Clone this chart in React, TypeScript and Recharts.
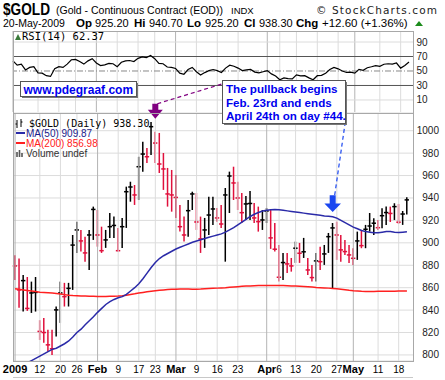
import { ComposedChart, Bar, Line, XAxis, YAxis, CartesianGrid, ReferenceLine, ReferenceDot } from 'recharts';

// trading days, Jan 2 - May 20 2009
const janDays = [2, 5, 6, 7, 8, 9, 12, 13, 14, 15, 16, 20, 21, 22, 23, 26, 27, 28, 29, 30];
const febDays = [2, 3, 4, 5, 6, 9, 10, 11, 12, 13, 17, 18, 19, 20, 23, 24, 25, 26, 27];
const marDays = [2, 3, 4, 5, 6, 9, 10, 11, 12, 13, 16, 17, 18, 19, 20, 23, 24, 25, 26, 27, 30, 31];
const aprDays = [1, 2, 3, 6, 7, 8, 9, 13, 14, 15, 16, 17, 20, 21, 22, 23, 24, 27, 28, 29, 30];
const mayDays = [1, 4, 5, 6, 7, 8, 11, 12, 13, 14, 15, 18, 19, 20];

const days = [
  ...janDays.map((d) => `Jan ${d}`),
  ...febDays.map((d) => `Feb ${d}`),
  ...marDays.map((d) => `Mar ${d}`),
  ...aprDays.map((d) => `Apr ${d}`),
  ...mayDays.map((d) => `May ${d}`),
];

const prevClose = 884;

const highs = [
  889, 886, 871.4, 869.5, 865.4, 869.5, 831, 833, 822.4, 822.4,
  843.2, 865.4, 864.3, 864.3, 907, 918.9, 911.5, 905.5, 911.5, 932.3,
  929.3, 914.4, 911.5, 926.6, 923.4, 913.3, 922.2, 950.1, 954.5, 951.6,
  976.8, 990.2, 984.6, 1007.8, 999.1, 998, 980.1, 966.8, 965, 960.5,
  933.8, 923.4, 938.2, 945.6, 944.5, 923.4, 922.2, 941.2, 941.2, 931.1,
  933.8, 948.9, 963.5, 967.9, 954.5, 944.5, 941.8, 946.3, 935.6, 932.3,
  929.3, 931.1, 929.3, 917.7, 898.1, 891, 891, 886.5, 901.1, 899.9,
  904.4, 886.5, 880.3, 891, 896.6, 898.1, 908.8, 917.7, 918.9, 907,
  902.6, 898.1, 895.2, 910, 911.5, 916, 926.6, 921.9, 920.4, 930.8,
  932.3, 932.3, 935.3, 934.7, 928.4, 940.7,
];

const lows = [
  866.9, 842, 838.7, 839.3, 837.5, 838.7, 813.4, 810.8, 802.8, 800,
  816.4, 828.6, 843.2, 843.2, 858, 891, 892.2, 883.2, 875.8, 902.6,
  896.6, 891, 895.5, 904.4, 904.4, 892.2, 895.5, 913.3, 936.7, 933.8,
  938.2, 963.5, 971.2, 978.3, 971.2, 962.3, 947.2, 932.3, 927.8, 922.2,
  910, 901.1, 905.5, 929.3, 911.5, 891, 895.5, 907, 916, 918.9,
  913.3, 883.2, 926.6, 938.2, 929.3, 917.7, 920.4, 920.4, 917.7, 910,
  911.5, 917.7, 894.6, 892.2, 865.4, 866.9, 873.2, 874.3, 882.1, 882.1,
  886.5, 871.4, 865.4, 865.4, 875.8, 880.3, 891, 859.5, 884.8, 883.2,
  889.2, 882.1, 880.3, 884.8, 895.2, 895.2, 910, 907, 911.5, 913,
  916, 918.6, 920.4, 916.8, 916, 925.2,
];

const closes = [
  879.4, 858, 866.3, 841.5, 855.3, 855.8, 821, 820, 809, 805.5,
  840.2, 855.3, 852, 859.4, 898, 911.5, 901.7, 891, 907, 929.8,
  907, 893, 902.6, 914.4, 915.5, 893, 914.4, 945.6, 949.8, 942.7,
  967.9, 979.2, 976.8, 1003.6, 989, 970.3, 965.9, 943.6, 942.7, 940.5,
  914.4, 907, 928.7, 943.6, 918.6, 903.5, 911.5, 924.8, 930.2, 922.2,
  916.8, 942.7, 959.6, 953.4, 940, 926.9, 934.7, 935.1, 922.2, 918.9,
  920.4, 928.4, 904.4, 894.3, 869.3, 882.4, 881.2, 879.4, 895.2, 890.7,
  892, 875.8, 869, 883.9, 883.2, 890.1, 905.5, 913.3, 907, 893.7,
  892.2, 889.2, 886.2, 901.7, 897.5, 912.1, 915, 917.5, 913.5, 924.2,
  927, 926.2, 932.3, 918.4, 925.7, 938.3,
];

const ma50 = [
  788, 790, 791.5, 793, 795, 797, 799, 801, 803, 805,
  806, 808, 810, 812.5, 816, 820, 823, 827, 830.5, 834,
  838, 841.5, 845, 847.5, 849.5, 851, 852, 854, 857, 860,
  863.5, 868, 873, 878, 882.5, 886, 888.5, 890.5, 892.5, 894.5,
  896, 897.5, 899, 900.5, 901.7, 902.7, 903.8, 905, 906, 907,
  908, 909.5, 911.5, 913.5, 916, 918.5, 921, 923.5, 925.5, 927,
  928.3, 929, 929.5, 929.8, 929.5, 929, 928.5, 928, 927.5, 927,
  926.5, 926, 925.5, 925, 924.5, 924, 923.7, 923.3, 922, 920,
  918, 916, 914, 912.5, 911, 910, 909.5, 909, 909, 909.5,
  910, 910, 909.5, 909.2, 909.5, 909.87,
];

const ma200 = [
  859, 858.5, 858, 857.5, 857, 856.5, 856, 855.8, 855.5, 855.2,
  854.8, 854.3, 853.8, 853.3, 853, 852.8, 852.6, 852.5, 852.4, 852.3,
  852.2, 852.2, 852.2, 852.3, 852.4, 852.5, 852.8, 853.3, 853.9, 854.5,
  855.2, 855.8, 856.3, 856.8, 857.3, 857.7, 858, 858.3, 858.5, 858.7,
  858.8, 858.8, 858.8, 858.7, 858.7, 858.8, 859, 859.2, 859.4, 859.6,
  859.8, 860, 860.3, 860.6, 860.9, 861.2, 861.4, 861.6, 861.8, 861.9,
  862, 862, 862, 862, 862, 861.9, 861.8, 861.6, 861.4, 861.2,
  861, 860.8, 860.5, 860.2, 860, 859.8, 859.6, 859.3, 859, 858.6,
  858.1, 857.6, 857.2, 857, 856.8, 856.7, 856.7, 856.7, 856.8, 856.8,
  856.9, 856.9, 856.9, 857, 857, 856.98,
];

const rsi = [
  64, 58, 59.5, 51.5, 55, 56, 47.5, 47, 43.5, 42.5,
  53, 56, 55, 59.5, 65.5, 66, 63, 59.5, 64, 67,
  61, 57.5, 58.5, 60.5, 60, 56, 62, 64, 64.5, 63,
  67.5, 69.5, 68.5, 71.5, 67, 60.5, 60, 55.5, 55, 53.5,
  47, 45.5, 52, 55, 49, 44.5, 47.8, 50.5, 52, 50.5,
  48, 54, 58, 56.5, 54, 50.5, 51.5, 52.2, 48.5, 47.5,
  49, 50.5, 46, 43, 38, 40.5, 39.5, 39, 44.7, 43.3,
  43.5, 40.5, 38, 43.5, 44, 47, 52, 55, 53, 50,
  48, 48.5, 47, 52.2, 50.9, 54.5, 55.8, 57.5, 56.5, 59.3,
  60, 59.5, 61, 54, 57.5, 62.37,
];

const tickDays = ['Jan 2', 'Jan 12', 'Jan 20', 'Jan 26', 'Feb 2', 'Feb 9', 'Feb 17', 'Feb 23', 'Mar 2', 'Mar 9', 'Mar 16', 'Mar 23', 'Apr 1', 'Apr 6', 'Apr 13', 'Apr 20', 'Apr 27', 'May 1', 'May 11', 'May 18'];
const tickLabels = ['2009', '12', '20', '26', 'Feb', '9', '17', '23', 'Mar', '9', '16', '23', 'Apr', '6', '13', '20', '27', 'May', '11', '18'];
const monthLabels = ['2009', 'Feb', 'Mar', 'Apr', 'May'];

const priceTicks = [800, 820, 840, 860, 880, 900, 920, 940, 960, 980, 1000];
const rsiTicks = [10, 30, 50, 70, 90];

const pullbackStart = 'Feb 23';
const pullbackEnd = 'Apr 24';

const rows = days.map((day, i) => ({
  day,
  range: [lows[i], highs[i]],
  h: highs[i],
  l: lows[i],
  c: closes[i],
  up: closes[i] >= (i > 0 ? closes[i - 1] : prevClose),
  ma50: ma50[i],
  ma200: ma200[i],
  rsi: rsi[i],
}));

const sans = '"Liberation Sans", Arial, sans-serif';
const mono = '"DejaVu Sans Mono", monospace';
const wide = '"DejaVu Sans", sans-serif';
const upColor = '#000000';
const downColor = '#e0103c';
const gridLight = '#dcdcdc';
const gridMonth = '#b4b4b4';

function OhlcBar(props: any) {
  const { x, y, width, height, payload } = props;
  if (!payload) return <g />;
  const cx = x + width / 2;
  const top = Math.min(y, y + height);
  const bottom = Math.max(y, y + height);
  const span = payload.h - payload.l || 1;
  const yc = top + ((payload.h - payload.c) / span) * (bottom - top);
  const color = payload.up ? upColor : downColor;
  return (
    <g>
      <line x1={cx} x2={cx} y1={top} y2={bottom} stroke={color} strokeWidth={1.5} />
      <line x1={cx - 2.2} x2={cx + 2.2} y1={yc} y2={yc} stroke={color} strokeWidth={1.5} />
    </g>
  );
}

function DateTick(props: any) {
  const { x, y, payload } = props;
  const k = tickDays.indexOf(payload.value);
  if (k < 0) return <g />;
  const label = tickLabels[k];
  const bold = monthLabels.includes(label);
  return (
    <text x={x} y={y + 12} textAnchor="middle" fontFamily={sans} fontSize={bold ? 11 : 10} fontWeight={bold ? 'bold' : 'normal'} fill="#000">
      {label}
    </text>
  );
}

function PriceTick(props: any) {
  const { x, y, payload } = props;
  return (
    <text x={x + 26} y={y + 3.5} textAnchor="end" fontFamily={sans} fontSize={10} fill="#222">
      {payload.value}
    </text>
  );
}

function RsiTick(props: any) {
  const { x, y, payload } = props;
  return (
    <text x={x + 3.5} y={y + 3.5} textAnchor="start" fontFamily={sans} fontSize={10} fill="#222">
      {payload.value}
    </text>
  );
}

// arrow pointing down at a bar, with a dashed leader up to the note box
function arrowShape(color: string, gap: number, head: number, half: number, stem: number, to: [number, number]) {
  return (props: any) => {
    const { cx, cy } = props;
    const tip = cy - gap;
    const hy = tip - head;
    const sy = hy - stem;
    return (
      <g>
        <line x1={cx + 2} y1={sy} x2={to[0]} y2={to[1]} stroke={color} strokeWidth={1.2} strokeDasharray="4 3" />
        <path
          d={`M${cx - 3} ${sy} H${cx + 3} V${hy} H${cx + half} L${cx} ${tip} L${cx - half} ${hy} H${cx - 3} Z`}
          fill={color}
        />
      </g>
    );
  };
}

const weekLines = (tag: string) =>
  tickDays.map((d, k) => (
    <ReferenceLine
      key={d + tag}
      x={d}
      stroke={monthLabels.includes(tickLabels[k]) ? gridMonth : gridLight}
      strokeWidth={1}
    />
  ));

export default function App() {
  const startIdx = days.indexOf(pullbackStart);
  const endIdx = days.indexOf(pullbackEnd);
  return (
    <div style={{ position: 'fixed', left: 0, top: 0, width: 445, height: 380, background: '#fff', overflow: 'hidden' }}>
      <div style={{ position: 'absolute', left: 0, top: 0 }}>
        <ComposedChart width={445} height={113} data={rows} margin={{ top: 31, right: 0, bottom: 1, left: 13 }}>
          <XAxis dataKey="day" type="category" hide padding={{ left: 0, right: 4 }} />
          <YAxis
            orientation="right"
            width={32}
            domain={[-6.6, 105.2]}
            ticks={rsiTicks}
            interval={0}
            allowDataOverflow
            axisLine={false}
            tickLine={false}
            tickSize={0}
            tickMargin={0}
            tick={<RsiTick />}
          />
          {weekLines('r')}
          <ReferenceLine y={90} stroke={gridLight} />
          <ReferenceLine y={10} stroke={gridLight} />
          <ReferenceLine y={70} stroke="#555" />
          <ReferenceLine y={30} stroke="#555" />
          <ReferenceLine y={50} stroke="#888" strokeDasharray="6 2 1 2" />
          <Line dataKey="rsi" stroke="#000" strokeWidth={1.2} dot={false} isAnimationActive={false} />
        </ComposedChart>
      </div>

      <div style={{ position: 'absolute', left: 0, top: 0 }}>
        <ComposedChart width={445} height={380} data={rows} margin={{ top: 113, right: 0, bottom: 0, left: 13 }}>
          <CartesianGrid vertical={false} stroke={gridLight} />
          <XAxis
            dataKey="day"
            type="category"
            interval={0}
            height={19}
            padding={{ left: 0, right: 4 }}
            axisLine={false}
            tickLine={false}
            tickSize={0}
            tickMargin={0}
            tick={<DateTick />}
          />
          <YAxis
            orientation="right"
            width={32}
            domain={[794.6, 1015.8]}
            ticks={priceTicks}
            interval={0}
            allowDataOverflow
            axisLine={false}
            tickLine={false}
            tickSize={0}
            tickMargin={0}
            tick={<PriceTick />}
          />
          {weekLines('p')}
          <Line dataKey="ma200" stroke="#ff2020" strokeWidth={1.5} dot={false} isAnimationActive={false} />
          <Line dataKey="ma50" stroke="#2a2aa8" strokeWidth={1.5} dot={false} isAnimationActive={false} />
          <Bar dataKey="range" shape={<OhlcBar />} isAnimationActive={false} />
          <ReferenceDot
            x={pullbackStart}
            y={highs[startIdx]}
            shape={arrowShape('#800080', 13, 9, 7.5, 6, [222, 84])}
          />
          <ReferenceDot
            x={pullbackEnd}
            y={highs[endIdx]}
            shape={arrowShape('#1a46f0', 11, 8.5, 8.3, 8.3, [346, 117])}
          />
        </ComposedChart>
      </div>

      {/* panel frames */}
      <div style={{ position: 'absolute', left: 13, top: 31, width: 399, height: 81, border: '1px solid #a8a8a8' }} />
      <div style={{ position: 'absolute', left: 13, top: 113, width: 399, height: 247, border: '1px solid #a8a8a8' }} />
      <div style={{ position: 'absolute', left: 13, top: 377, width: 400, height: 1, background: '#c8c8c8' }} />

      <svg width={445} height={380} style={{ position: 'absolute', left: 0, top: 0, pointerEvents: 'none' }}>
        {/* header */}
        <text x={3} y={15} fontFamily={sans} fontSize={16} fontWeight="bold" textLength={47} lengthAdjust="spacingAndGlyphs">$GOLD</text>
        <text x={56} y={14} fontFamily={sans} fontSize={10.5}>(Gold - Continuous Contract (EOD))</text>
        <text x={231} y={14} fontFamily={sans} fontSize={9.5}>INDX</text>
        <text x={316} y={14} fontFamily={wide} fontSize={10.5} textLength={121} fill="#222">© StockCharts.com</text>

        <text x={3} y={27} fontFamily={sans} fontSize={10.5}>20-May-2009</text>
        <text x={76} y={27} fontFamily={sans} fontSize={11.5} fontWeight="bold">Op</text>
        <text x={95} y={27} fontFamily={sans} fontSize={11}>925.20</text>
        <text x={134} y={27} fontFamily={sans} fontSize={11.5} fontWeight="bold">Hi</text>
        <text x={149} y={27} fontFamily={sans} fontSize={11}>940.70</text>
        <text x={187} y={27} fontFamily={sans} fontSize={11.5} fontWeight="bold">Lo</text>
        <text x={205} y={27} fontFamily={sans} fontSize={11}>925.20</text>
        <text x={244} y={27} fontFamily={sans} fontSize={11.5} fontWeight="bold">Cl</text>
        <text x={259} y={27} fontFamily={sans} fontSize={11}>938.30</text>
        <text x={296} y={27} fontFamily={sans} fontSize={11.5} fontWeight="bold">Chg</text>
        <text x={322} y={27} fontFamily={sans} fontSize={11.5}>+12.60 (+1.36%)</text>
        <path d="M415 26 L419 21 L423 26 Z" fill="#1c8c1c" />

        {/* RSI legend */}
        <path d="M15 40 L18 34 L21 40 Z" fill="#3a7a3a" />
        <text x={22} y={40} fontFamily={mono} fontSize={10.5}>RSI(14) 62.37</text>

        {/* price legend */}
        <path d="M17 120 V128 M21 119 V127 M15.5 124 H17 M21 122 H22.5" stroke="#000" strokeWidth={1} />
        <text x={29} y={126.5} fontFamily={mono} fontSize={10}>$GOLD (Daily) 938.30</text>
        <line x1={16} x2={25} y1={133} y2={133} stroke="#2a2aa8" strokeWidth={2} />
        <text x={26} y={136.5} fontFamily={sans} fontSize={10} fill="#1a1a8a">MA(50) 909.87</text>
        <line x1={16} x2={25} y1={143} y2={143} stroke="#ff2020" strokeWidth={2} />
        <text x={26} y={146.5} fontFamily={sans} fontSize={10} fill="#ff2020">MA(200) 856.98</text>
        <path d="M17 157 V152 M19.5 157 V150 M22 157 V153" stroke="#555" strokeWidth={1.6} />
        <text x={26} y={157} fontFamily={sans} fontSize={10} fill="#333">Volume undef</text>

        {/* note boxes */}
        <rect x={22} y={83} width={116} height={15} fill="#777" />
        <rect x={20.5} y={81.5} width={116} height={15} fill="#fff" stroke="#555" />
        <text x={23.5} y={93.5} fontFamily={sans} fontSize={12} fontWeight="bold" fill="#0000ee">www.pdegraaf.com</text>

        <rect x={224} y={82} width={123} height={43} fill="#777" />
        <rect x={222.5} y={80.5} width={123} height={43} fill="#fff" stroke="#555" />
        <text fontFamily={sans} fontSize={11.6} fontWeight="bold" fill="#0000ee">
          <tspan x={226} y={92.5}>The pullback begins</tspan>
          <tspan x={226} y={106.5}>Feb. 23rd and ends</tspan>
          <tspan x={226} y={120}>April 24th on day #44.</tspan>
        </text>
      </svg>
    </div>
  );
}
